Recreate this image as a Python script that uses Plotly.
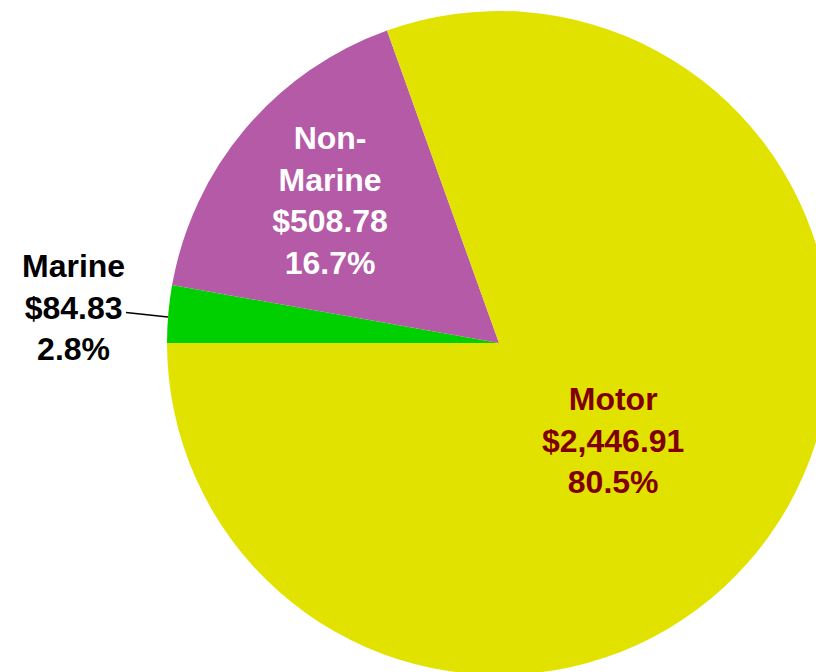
import plotly.graph_objects as go

# --- Datos ---
categorias = ["Marine", "Non-Marine", "Motor"]
etiquetas = ["Marine", "Non-<br>Marine", "Motor"]
valores = [84.83, 508.78, 2446.91]

colores = ["#00d000", "#b45aa6", "#e2e200"]
color_texto = ["#000000", "#ffffff", "#800000"]
posicion_texto = ["none", "inside", "none"]

W, H = 840, 680
FUENTE = "Liberation Sans, Arial, sans-serif"

fig = go.Figure()

fig.add_trace(go.Pie(
    labels=categorias,
    values=valores,
    customdata=etiquetas,
    sort=False,
    direction="clockwise",
    rotation=270,
    marker=dict(colors=colores, line=dict(width=0)),
    texttemplate="<b>%{customdata}<br>$%{value:,.2f}<br>%{percent:.1%}</b>",
    textposition=posicion_texto,
    insidetextorientation="horizontal",
    textfont=dict(family=FUENTE, size=32, color=color_texto),
    hoverinfo="label+value+percent",
    showlegend=False,
    domain=dict(x=[167 / W, 831 / W], y=[1 - 675 / H, 1 - 11 / H]),
))

total = sum(valores)


def texto(i):
    return f"<b>{etiquetas[i]}<br>${valores[i]:,.2f}<br>{valores[i] / total:.1%}</b>"


# Etiqueta exterior de Marine con línea guía
fig.add_annotation(
    x=168 / W, y=1 - 317 / H, xref="paper", yref="paper",
    ax=-95, ay=-10,
    text=texto(0),
    showarrow=True, arrowhead=0, arrowwidth=1.5, arrowcolor="#000000",
    font=dict(family=FUENTE, size=32, color=color_texto[0]),
    xanchor="center", yanchor="middle",
)

# Etiqueta de Motor dentro del sector
fig.add_annotation(
    x=613 / W, y=1 - 440 / H, xref="paper", yref="paper",
    text=texto(2), showarrow=False,
    font=dict(family=FUENTE, size=32, color=color_texto[2]),
    xanchor="center", yanchor="middle",
)

fig.update_layout(
    width=W,
    height=H,
    margin=dict(l=0, r=0, t=0, b=0),
    paper_bgcolor="white",
    plot_bgcolor="white",
    uniformtext=dict(minsize=32, mode="show"),
)

fig.write_html(
    "out.html",
    config={"displayModeBar": False},
    post_script="document.body.style.margin='0';document.body.style.overflow='hidden';",
)
